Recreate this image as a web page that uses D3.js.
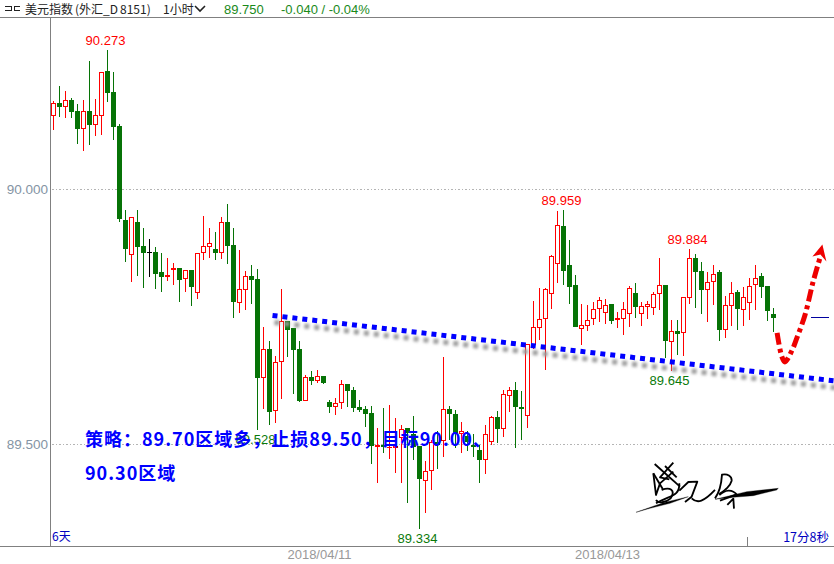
<!DOCTYPE html>
<html><head><meta charset="utf-8">
<script src="https://cdn.jsdelivr.net/npm/d3@7/dist/d3.min.js"></script>
<style>html,body{margin:0;padding:0;background:#fff;overflow:hidden}svg{display:block}</style>
</head><body><div id="chart"></div>
<script>
const opens=[90.145,90.169,90.161,90.176,90.153,90.118,90.153,90.127,90.145,90.233,
90.192,90.124,89.941,89.871,89.937,89.890,89.878,89.878,89.839,89.829,
89.843,89.847,89.824,89.843,89.798,89.875,89.888,89.884,89.876,89.937,
89.892,89.778,89.802,89.831,89.824,89.631,89.688,89.565,89.661,89.743,
89.729,89.688,89.586,89.633,89.624,89.635,89.584,89.573,89.582,89.618,
89.606,89.573,89.569,89.561,89.496,89.500,89.494,89.494,89.512,89.533,
89.520,89.498,89.429,89.449,89.504,89.506,89.569,89.559,89.520,89.516,
89.500,89.490,89.469,89.504,89.553,89.531,89.596,89.606,89.573,89.555,
89.696,89.729,89.747,89.796,89.853,89.929,89.851,89.812,89.727,89.733,
89.747,89.765,89.757,89.775,89.745,89.747,89.755,89.798,89.755,89.769,
89.767,89.796,89.812,89.700,89.722,89.718,89.788,89.865,89.841,89.802,
89.818,89.839,89.725,89.771,89.800,89.763,89.778,89.812,89.831,89.810,
89.755];
const closes=[90.169,90.161,90.176,90.151,90.118,90.153,90.127,90.147,90.231,90.190,
90.122,89.943,89.884,89.947,89.888,89.876,89.878,89.835,89.829,89.833,
89.847,89.822,89.843,89.808,89.875,89.890,89.896,89.876,89.937,89.890,
89.780,89.804,89.831,89.822,89.631,89.688,89.563,89.661,89.743,89.725,
89.686,89.586,89.633,89.625,89.635,89.620,89.573,89.582,89.618,89.604,
89.571,89.567,89.559,89.498,89.500,89.496,89.496,89.498,89.531,89.522,
89.496,89.433,89.449,89.504,89.500,89.569,89.559,89.522,89.527,89.504,
89.496,89.469,89.520,89.553,89.531,89.600,89.606,89.573,89.569,89.698,
89.731,89.747,89.804,89.869,89.931,89.841,89.808,89.731,89.735,89.745,
89.765,89.784,89.773,89.743,89.749,89.765,89.806,89.769,89.771,89.775,
89.796,89.812,89.702,89.722,89.716,89.790,89.865,89.839,89.802,89.818,
89.835,89.725,89.773,89.798,89.765,89.790,89.810,89.827,89.808,89.761,
89.749];
const highs=[90.173,90.202,90.194,90.180,90.167,90.176,90.251,90.178,90.231,90.273,
90.231,90.129,89.959,89.947,89.959,89.924,89.902,89.888,89.875,89.865,
89.855,89.847,89.843,89.843,89.875,89.949,89.925,89.916,89.947,89.971,
89.924,89.882,89.841,89.851,89.845,89.731,89.702,89.673,89.804,89.743,
89.729,89.702,89.637,89.645,89.647,89.635,89.588,89.592,89.627,89.618,
89.612,89.588,89.576,89.576,89.533,89.571,89.578,89.551,89.539,89.533,
89.555,89.498,89.467,89.508,89.527,89.671,89.576,89.567,89.545,89.527,
89.520,89.500,89.539,89.555,89.565,89.606,89.612,89.622,89.604,89.698,
89.782,89.806,89.806,89.871,89.957,89.959,89.900,89.833,89.775,89.773,
89.780,89.790,89.786,89.775,89.759,89.780,89.810,89.816,89.780,89.782,
89.800,89.865,89.812,89.745,89.745,89.790,89.884,89.873,89.857,89.839,
89.851,89.843,89.792,89.818,89.802,89.808,89.827,89.851,89.837,89.810,
89.767];
const lows=[90.116,90.143,90.141,90.141,90.090,90.076,90.088,90.104,90.106,90.171,
90.098,89.937,89.857,89.818,89.831,89.806,89.829,89.804,89.800,89.820,
89.812,89.780,89.800,89.771,89.786,89.861,89.865,89.861,89.863,89.853,
89.749,89.757,89.763,89.775,89.528,89.569,89.539,89.543,89.590,89.671,
89.600,89.584,89.586,89.616,89.620,89.618,89.561,89.557,89.569,89.573,
89.563,89.563,89.535,89.461,89.425,89.484,89.471,89.445,89.425,89.386,
89.469,89.334,89.365,89.410,89.451,89.476,89.508,89.494,89.484,89.488,
89.475,89.425,89.443,89.500,89.502,89.514,89.563,89.494,89.508,89.533,
89.688,89.704,89.647,89.765,89.816,89.812,89.775,89.731,89.696,89.722,
89.735,89.741,89.737,89.737,89.729,89.714,89.731,89.749,89.733,89.747,
89.753,89.763,89.669,89.645,89.675,89.673,89.776,89.767,89.755,89.741,
89.773,89.702,89.708,89.733,89.724,89.733,89.745,89.763,89.788,89.743,
89.720];
const priceTicks=[90.0,89.5];
const dateTicks=[44.25,92.25];
const dateLabels=["2018/04/11","2018/04/13"];
const extremeIdx=[9,34,61,85,103,106];
const extremeVals=[90.273,89.528,89.334,89.959,89.645,89.884];
const extremeKind=["hi","lo","lo","hi","lo","hi"];
const trendIdx=[36.5,130];
const trendVals=[89.753,89.625];
const arrowIdx=[120.6,121.4,121.9,123.1,123.9,125.25,126.6,127.8];
const arrowVals=[89.719,89.672,89.662,89.685,89.709,89.754,89.819,89.868];
const lastPrice=89.750;

const W=834,H=564;
const svg=d3.select("#chart").append("svg").attr("width",W).attr("height",H);
const x=d3.scaleLinear().domain([0,120]).range([53.5,773.5]);
const y=d3.scaleLinear().domain([89.5,90]).range([444.5,189.5]);
const font='"Liberation Sans",Arial,sans-serif';
const cjk='"Noto Sans CJK SC","Liberation Sans",sans-serif';

// frame
const frame=svg.append("g").attr("fill","none").attr("stroke","#808080").attr("shape-rendering","crispEdges");
frame.append("line").attr("x1",0).attr("x2",W).attr("y1",17.5).attr("y2",17.5);
frame.append("line").attr("x1",50.5).attr("x2",50.5).attr("y1",17).attr("y2",546);
frame.append("line").attr("x1",0).attr("x2",W).attr("y1",546.5).attr("y2",546.5);
frame.append("line").attr("x1",747.5).attr("x2",747.5).attr("y1",537).attr("y2",546);

// grid
svg.append("g").selectAll("line").data(priceTicks).join("line")
 .attr("x1",52).attr("x2",W).attr("y1",d=>y(d)).attr("y2",d=>y(d))
 .attr("stroke","#b4b4b4").attr("stroke-dasharray","1.5,2").attr("shape-rendering","crispEdges");

// axes
const yAxis=svg.append("g").attr("transform","translate(50,0)")
 .call(d3.axisLeft(y).tickValues(priceTicks).tickSize(0).tickPadding(2).tickFormat(d3.format(".3f")));
yAxis.select(".domain").remove();
yAxis.selectAll("text").attr("fill","#8494a4").attr("font-family",font).attr("font-size",13.5);
const xAxis=svg.append("g").attr("transform","translate(0,547)")
 .call(d3.axisBottom(x).tickValues(dateTicks).tickSize(0).tickPadding(3).tickFormat((d,i)=>dateLabels[i]));
xAxis.select(".domain").remove();
xAxis.selectAll("text").attr("fill","#999").attr("font-family",font).attr("font-size",13);

// candles
const idx=d3.range(opens.length);
const col=i=>closes[i]>opens[i]?"#ff0000":closes[i]<opens[i]?"#067306":"#000";
const g=svg.append("g").attr("shape-rendering","crispEdges");
g.selectAll("rect.w").data(idx).join("rect").attr("class","w")
 .attr("x",i=>Math.floor(x(i))).attr("width",1)
 .attr("y",i=>Math.round(y(highs[i]))).attr("height",i=>Math.round(y(lows[i]))-Math.round(y(highs[i])))
 .attr("fill",col);
g.selectAll("rect.b").data(idx).join("rect").attr("class","b")
 .attr("x",i=>Math.floor(x(i))-2)
 .attr("width",5)
 .attr("y",i=>Math.round(y(Math.max(opens[i],closes[i]))))
 .attr("height",i=>Math.max(1,Math.round(y(Math.min(opens[i],closes[i])))-Math.round(y(Math.max(opens[i],closes[i])))))
 .attr("fill",col);
g.selectAll("rect.i").data(idx.filter(i=>closes[i]>opens[i]&&y(opens[i])-y(closes[i])>=3)).join("rect").attr("class","i")
 .attr("x",i=>Math.floor(x(i))-1).attr("width",3)
 .attr("y",i=>Math.round(y(closes[i]))+1)
 .attr("height",i=>Math.round(y(opens[i]))-Math.round(y(closes[i]))-2)
 .attr("fill","#fff");

// extreme labels
svg.append("g").selectAll("text").data(extremeVals).join("text")
 .attr("x",(d,i)=>x(extremeIdx[i])-2)
 .attr("y",(d,i)=>extremeKind[i]==="hi"?y(d)-5:y(d)+14)
 .attr("text-anchor","middle").attr("font-family",font).attr("font-size",13)
 .attr("fill",(d,i)=>extremeKind[i]==="hi"?"#f00":"#0a7a0a")
 .text(d=>d3.format(".3f")(d));

// last price tick
svg.append("line").attr("x1",811).attr("x2",829).attr("y1",y(lastPrice)).attr("y2",y(lastPrice))
 .attr("stroke","#0000a0").attr("shape-rendering","crispEdges");

// trend line
const defs=svg.append("defs");
defs.append("filter").attr("id","blur").append("feGaussianBlur").attr("stdDeviation",1.6);
const tl=d3.line().x((d,i)=>x(trendIdx[i])).y(d=>y(d));
svg.append("path").attr("d",tl(trendVals)).attr("fill","none").attr("stroke","#999").attr("stroke-width",5)
 .attr("stroke-dasharray","5,5").attr("filter","url(#blur)").attr("transform","translate(2,7)");
svg.append("path").attr("d",tl(trendVals)).attr("fill","none").attr("stroke","#0000ff").attr("stroke-width",5)
 .attr("stroke-dasharray","5,5");

// red arrow
const al=d3.line().x((d,i)=>x(arrowIdx[i])).y(d=>y(d)).curve(d3.curveCatmullRom);
svg.append("path").attr("d",al(arrowVals)).attr("fill","none").attr("stroke","#ee0000").attr("stroke-width",5)
 .attr("stroke-dasharray","12,4,4,4");
const tip=[x(128.15),y(89.892)];
svg.append("path").attr("fill","#ee0000")
 .attr("d",`M${tip[0]},${tip[1]} L${tip[0]+4},${tip[1]+17} L${tip[0]-2},${tip[1]+10} L${tip[0]-10},${tip[1]+12} Z`);

// signature
const sig=svg.append("g").attr("transform","translate(620,440) scale(0.3333)").attr("fill","none").attr("stroke","#000").attr("stroke-width",5.5).attr("stroke-linejoin","round");
sig.append("path").attr("fill","#000").attr("stroke-width",1).attr("d","M48,217 L130,188 L205,170 L150,190 L90,205 Z");
sig.append("path").attr("fill","#000").attr("stroke-width",1).attr("d","M285,178 L380,155 L475,145 L470,150 L400,167 L340,172 Z");
["M104,72 L180,140","M160,68 L120,112 L148,118","M135,78 L170,112","M100,100 L108,165 L120,130 L160,95","M100,100 L130,150",
 "M125,150 C150,140 168,150 152,175 C135,190 115,190 108,180","M108,190 C150,165 180,170 178,130",
 "M178,152 L205,126 L232,125 L215,170 L195,186","M215,175 C232,192 252,185 285,150",
 "M285,175 C300,155 305,120 306,104 C322,100 336,108 335,122 C330,140 315,150 298,162","M298,165 C315,150 335,145 352,165","M300,182 L348,164","M322,195 L340,176 L342,206"]
 .forEach(d=>sig.append("path").attr("d",d));

// strategy text
const strat=svg.append("g").attr("font-family",cjk).attr("font-weight",700).attr("font-size",18).attr("fill","#0000ff");
strat.append("text").attr("x",85).attr("y",446).attr("letter-spacing",1).text("策略：89.70区域多，止损89.50，目标90.00、");
strat.append("text").attr("x",85).attr("y",480).attr("letter-spacing",1).text("90.30区域");

// corners
svg.append("text").attr("x",52).attr("y",541).attr("font-family",cjk).attr("font-size",12).attr("fill","#0000c0").text("6天");
svg.append("text").attr("x",829).attr("y",542).attr("text-anchor","end").attr("font-family",cjk).attr("font-size",12.5).attr("fill","#0000c0").text("17分8秒");

// header
const hd=svg.append("g").attr("font-family",cjk).attr("font-size",12).attr("fill","#222");
hd.append("path").attr("d","M5,6.5H11V10.5H5M20,6.5H14V10.5H20").attr("fill","none").attr("stroke","#222").attr("shape-rendering","crispEdges");
hd.append("text").attr("x",25).attr("y",14).text("美元指数");
hd.append("text").attr("x",75).attr("y",14).text("(外汇_D");
hd.append("text").attr("x",120).attr("y",14).text("8151)");
hd.append("text").attr("x",163).attr("y",14).text("1小时");
hd.append("path").attr("d","M195,6L200,11L205,6").attr("fill","none").attr("stroke","#222").attr("stroke-width",1.6);
const hd2=svg.append("g").attr("font-family",font).attr("font-size",13).attr("fill","#1a8a1a");
hd2.append("text").attr("x",224).attr("y",14).text("89.750");
hd2.append("text").attr("x",281).attr("y",14).text("-0.040 / -0.04%");
</script></body></html>
